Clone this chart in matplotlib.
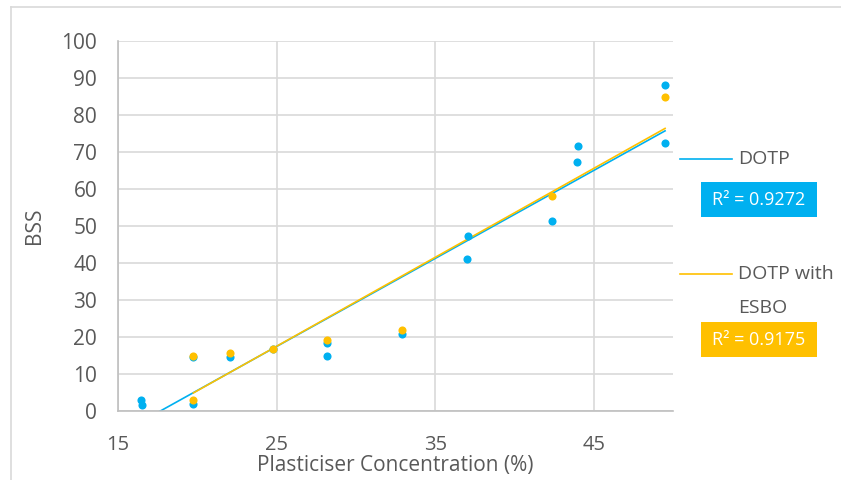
import numpy as np
import matplotlib.pyplot as plt
from matplotlib.patches import Rectangle
from matplotlib.lines import Line2D

# data
dotp_x = [16.45, 16.5, 19.75, 19.75, 22.05, 24.8, 28.2, 28.2, 32.9, 37.1, 37.0, 42.35, 44.0, 43.95, 49.5, 49.5]
dotp_y = [3.0, 1.5, 1.8, 14.6, 14.6, 16.8, 18.4, 14.8, 20.9, 47.2, 41.1, 51.3, 71.6, 67.2, 88.2, 72.4]
esbo_x = [19.75, 19.75, 22.05, 24.8, 28.2, 32.9, 42.35, 49.5]
esbo_y = [2.9, 14.8, 15.7, 16.7, 19.3, 22.0, 58.0, 85.0]
r2_labels = ['R² = 0.9272', 'R² = 0.9175']
x_ticks = [15, 25, 35, 45]
y_ticks = list(range(0, 101, 10))

blue = '#00B0F0'
orange = '#FFC000'
txt = '#595959'
grid = '#D9D9D9'
plt.rcParams['font.family'] = ['Open Sans', 'DejaVu Sans']

fig = plt.figure(figsize=(8.41, 4.80), dpi=100)
ax = fig.add_axes([118 / 841, 1 - 411 / 480, (673 - 118) / 841, (411 - 41) / 480])


def fx(p):
    return p / 841


def fy(p):
    return 1 - p / 480


# figure frame (only top and left visible)
fig.add_artist(Line2D([fx(11), 1], [fy(7)] * 2, color=grid, lw=1.2, transform=fig.transFigure))
fig.add_artist(Line2D([fx(11)] * 2, [0, fy(7)], color=grid, lw=1.2, transform=fig.transFigure))

ax.scatter(dotp_x, dotp_y, s=34, color=blue, zorder=3, clip_on=False, linewidths=0)
ax.scatter(esbo_x, esbo_y, s=34, color=orange, zorder=4, clip_on=False, linewidths=0)

# linear trendlines over the data range
for xs, ys, c in [(dotp_x, dotp_y, blue), (esbo_x, esbo_y, orange)]:
    m, b = np.polyfit(xs, ys, 1)
    xx = np.array([min(xs), max(xs)])
    ax.plot(xx, m * xx + b, color=c, lw=1.2, zorder=2)

ax.set_xlim(15, 50)
ax.set_ylim(0, 100)
ax.set_xticks(x_ticks)
ax.set_yticks(y_ticks)
ax.grid(True, color=grid, lw=1.2, zorder=0)
ax.set_axisbelow(True)
for s in ['top', 'right']:
    ax.spines[s].set_visible(False)
for s in ['left', 'bottom']:
    ax.spines[s].set_color('#BFBFBF')
    ax.spines[s].set_linewidth(1.2)
ax.tick_params(length=0, colors=txt, labelsize=15)
ax.tick_params(axis='x', pad=17, labelsize=14.5)
ax.tick_params(axis='y', pad=15)
ax.set_xlabel('Plasticiser Concentration (%)', color=txt, fontsize=15, labelpad=0)
ax.set_ylabel('BSS', color=txt, fontsize=15, labelpad=12)

# legend with R² boxes
fig.add_artist(Line2D([fx(680), fx(732)], [fy(159)] * 2, color=blue, lw=1.2, transform=fig.transFigure))
fig.text(fx(738), fy(159), 'DOTP', color=txt, fontsize=14, va='center')
fig.add_artist(Rectangle((fx(701), fy(217)), fx(116), 35 / 480, fc=blue, ec='none',
                         transform=fig.transFigure))
fig.text(fx(759), fy(200), r2_labels[0], color='white', fontsize=13, ha='center', va='center')
fig.add_artist(Line2D([fx(680), fx(732)], [fy(274)] * 2, color=orange, lw=1.2, transform=fig.transFigure))
fig.text(fx(738), fy(274), 'DOTP with', color=txt, fontsize=14, va='center')
fig.text(fx(738), fy(308), 'ESBO', color=txt, fontsize=14, va='center')
fig.add_artist(Rectangle((fx(701), fy(357)), fx(116), 35 / 480, fc=orange, ec='none',
                         transform=fig.transFigure))
fig.text(fx(759), fy(340), r2_labels[1], color='white', fontsize=13, ha='center', va='center')

fig.savefig('out.png', dpi=100)
